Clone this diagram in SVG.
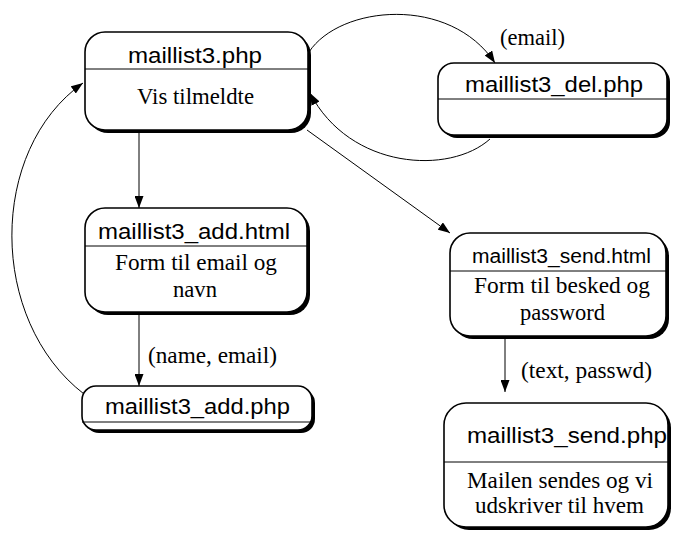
<svg xmlns="http://www.w3.org/2000/svg" width="677" height="534" viewBox="0 0 677 534">
<style>
.box{fill:#fff;stroke:#000;stroke-width:1.6}
.sh{fill:#000}
.div{stroke:#000;stroke-width:1}
.t{font-family:"Liberation Sans",Arial,sans-serif;font-size:22px;fill:#000;text-anchor:middle}
.b{font-family:"Liberation Serif","Times New Roman",serif;font-size:23px;fill:#000;text-anchor:middle}
.l{font-family:"Liberation Serif","Times New Roman",serif;font-size:23px;fill:#000}
.c{fill:none;stroke:#000;stroke-width:1}
</style>
<defs>
<marker id="ah" markerUnits="userSpaceOnUse" markerWidth="13" markerHeight="9" refX="12" refY="4.5" orient="auto">
<path d="M0,0 L12,4.5 L0,9 z" fill="#000"/>
</marker>
</defs>
<rect width="677" height="534" fill="#fff"/>
<g id="connectors">
<path class="c" d="M309,52 C340,5 450,-5 495,63" marker-end="url(#ah)"/>
<path class="c" d="M490,139 C450,175 350,170 310,93" marker-end="url(#ah)"/>
<path class="c" d="M307,130 L450,233" marker-end="url(#ah)"/>
<path class="c" d="M139,133 L139,208" marker-end="url(#ah)"/>
<path class="c" d="M139,315 L139,386" marker-end="url(#ah)"/>
<path class="c" d="M505,339 L505,392" marker-end="url(#ah)"/>
<path class="c" d="M84,394 C-12,320 -12,150 83,83" marker-end="url(#ah)"/>
<text class="l" x="500" y="45" textLength="65" lengthAdjust="spacingAndGlyphs">(email)</text>
<text class="l" x="148" y="363" textLength="129" lengthAdjust="spacingAndGlyphs">(name, email)</text>
<text class="l" x="521" y="378" textLength="131" lengthAdjust="spacingAndGlyphs">(text, passwd)</text>
</g>
<g id="maillist3_php">
<rect class="sh" x="88" y="35" width="223" height="98" rx="20"/>
<rect class="box" x="85" y="32" width="223" height="98" rx="20"/>
<line class="div" x1="85" y1="69" x2="308" y2="69"/>
<text class="t" x="195" y="63" textLength="134" lengthAdjust="spacingAndGlyphs">maillist3.php</text>
<text class="b" x="195.5" y="104" textLength="117" lengthAdjust="spacingAndGlyphs">Vis tilmeldte</text>
</g>
<g id="maillist3_del_php">
<rect class="sh" x="441" y="66" width="229" height="72" rx="16"/>
<rect class="box" x="438" y="63" width="229" height="72" rx="16"/>
<line class="div" x1="438" y1="99" x2="667" y2="99"/>
<text class="t" x="554" y="92" textLength="178" lengthAdjust="spacingAndGlyphs">maillist3_del.php</text>
</g>
<g id="maillist3_add_html">
<rect class="sh" x="88" y="211" width="222" height="104" rx="20"/>
<rect class="box" x="85" y="208" width="222" height="104" rx="20"/>
<line class="div" x1="85" y1="246" x2="307" y2="246"/>
<text class="t" x="194" y="239" textLength="192" lengthAdjust="spacingAndGlyphs">maillist3_add.html</text>
<text class="b" x="196" y="270" textLength="162" lengthAdjust="spacingAndGlyphs">Form til email og</text>
<text class="b" x="195" y="297" textLength="44" lengthAdjust="spacingAndGlyphs">navn</text>
</g>
<g id="maillist3_send_html">
<rect class="sh" x="453" y="236" width="216" height="103" rx="20"/>
<rect class="box" x="450" y="233" width="216" height="103" rx="20"/>
<line class="div" x1="450" y1="271" x2="666" y2="271"/>
<text class="t" x="561.5" y="263" style="font-size:20px" textLength="179" lengthAdjust="spacingAndGlyphs">maillist3_send.html</text>
<text class="b" x="562" y="293" textLength="176" lengthAdjust="spacingAndGlyphs">Form til besked og</text>
<text class="b" x="562.5" y="320" textLength="85" lengthAdjust="spacingAndGlyphs">password</text>
</g>
<g id="maillist3_add_php">
<rect class="sh" x="85" y="389" width="230" height="44" rx="14"/>
<rect class="box" x="82" y="386" width="230" height="44" rx="14"/>
<line class="div" x1="82" y1="422" x2="312" y2="422"/>
<text class="t" x="197.5" y="414" textLength="185" lengthAdjust="spacingAndGlyphs">maillist3_add.php</text>
</g>
<g id="maillist3_send_php">
<rect class="sh" x="447" y="406" width="224" height="124" rx="22"/>
<rect class="box" x="444" y="403" width="224" height="124" rx="22"/>
<line class="div" x1="444" y1="462" x2="668" y2="462"/>
<text class="t" x="567" y="443" textLength="200" lengthAdjust="spacingAndGlyphs">maillist3_send.php</text>
<text class="b" x="560" y="488" textLength="186" lengthAdjust="spacingAndGlyphs">Mailen sendes og vi</text>
<text class="b" x="559.5" y="513" textLength="169" lengthAdjust="spacingAndGlyphs">udskriver til hvem</text>
</g>
</svg>
